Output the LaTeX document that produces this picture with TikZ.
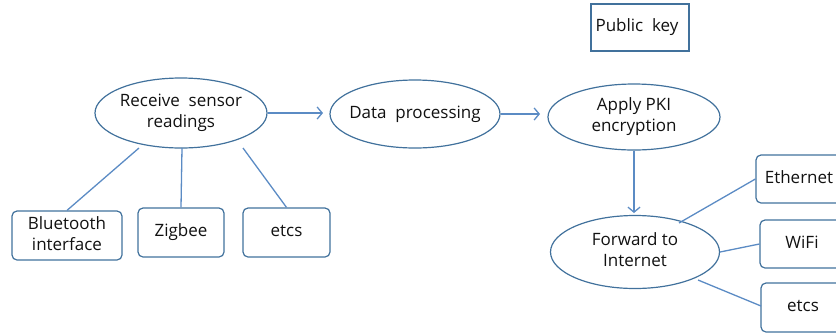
\documentclass[tikz,border=0pt]{standalone}
\usepackage{fontspec}
\setmainfont{Open Sans}
\usetikzlibrary{shapes.geometric,arrows.meta}
\definecolor{edgeblue}{HTML}{41719C}
\definecolor{lineblue}{HTML}{5B8BC4}
\definecolor{txt}{HTML}{111111}
\newcommand\ctxt[1]{\makebox[0pt]{\begin{tabular}{@{}c@{}}#1\end{tabular}}}
\begin{document}
\begin{tikzpicture}[x=1pt,y=-1pt,
  every node/.style={text=txt,font=\fontsize{17}{21}\selectfont},
  oval/.style={ellipse,draw=edgeblue,line width=1.2pt,inner sep=0pt},
  rbox/.style={draw=edgeblue,line width=1.2pt,rounded corners=5pt,inner sep=0pt},
  sbox/.style={draw=edgeblue,line width=1.2pt,inner sep=0pt},
  conn/.style={draw=lineblue,line width=1.3pt},
  arr/.style={conn,-{Straight Barb[length=5pt,width=12pt]}}]
\useasboundingbox (0,0) rectangle (836,333);
% ellipses
\node[oval,minimum width=172pt,minimum height=70pt] (recv) at (181,113) {\ctxt{Receive\ \ sensor\\readings}};
\node[oval,minimum width=170pt,minimum height=68pt] (proc) at (415,114) {\ctxt{Data\ \ processing}};
\node[oval,minimum width=172pt,minimum height=66pt] (pki) at (634,117) {\ctxt{Apply PKI\\encryption}};
\node[oval,minimum width=169pt,minimum height=73pt] (fwd) at (635,252) {\ctxt{Forward to\\Internet}};
% public key
\node[sbox,minimum width=98pt,minimum height=47pt] (pub) at (640,27.5) {\ctxt{\hspace*{-6pt}Public\ \ key}};
% left boxes
\node[rbox,minimum width=110pt,minimum height=49pt] (bt) at (67,235.5) {\ctxt{Bluetooth\\interface}};
\node[rbox,minimum width=86pt,minimum height=49pt] (zig) at (181,232.5) {\ctxt{Zigbee}};
\node[rbox,minimum width=87pt,minimum height=49pt] (etcA) at (286.5,232.5) {\ctxt{etcs}};
% right boxes (clipped at the picture edge)
\node[rbox,minimum width=100pt,minimum height=48pt] (eth) at (806,179) {\ctxt{\hspace*{-14pt}Ethernet}};
\node[rbox,minimum width=100pt,minimum height=48pt] (wifi) at (810,244) {\ctxt{\hspace*{-16pt}WiFi}};
\node[rbox,minimum width=100pt,minimum height=49pt] (etcB) at (811,307.5) {\ctxt{\hspace*{-16pt}etcs}};
% arrows
\draw[arr] (recv.east) -- (323,113) coordinate (a1);
\draw[arr] (proc.east) -- (540,114) coordinate (a2);
\draw[arr] (pki.south) -- (634,213) coordinate (a3);
% connectors
\draw[conn] (139,148) coordinate (c1) -- (bt.north);
\draw[conn] (182,148) coordinate (c2) -- (zig.north);
\draw[conn] (243,148) coordinate (c3) -- (etcA.north);
\draw[conn] (679,223) coordinate (c4) -- (eth.west);
\draw[conn] (fwd.east) -- (wifi.west);
\draw[conn] (698,280) coordinate (c6) -- (761,306) coordinate (c7);
\end{tikzpicture}
\end{document}
